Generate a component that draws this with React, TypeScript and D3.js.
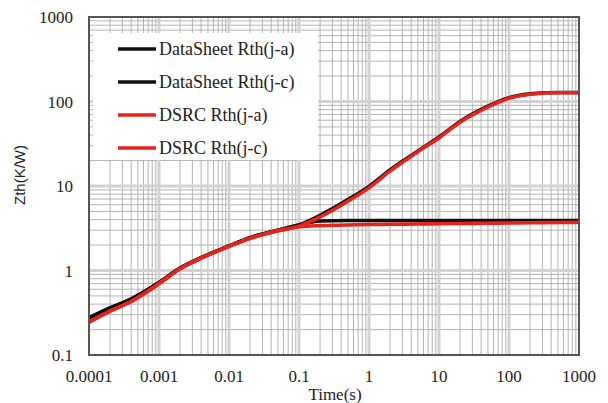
import React from 'react';
import * as d3 from 'd3';

// time axis samples (s)
const TIME = [0.0001, 0.0002, 0.0004, 0.001, 0.002, 0.004, 0.01, 0.02, 0.05, 0.1, 0.2, 0.5, 1, 2, 5, 10, 20, 50, 100, 200, 500, 1000];

// Zth values (K/W)
const DS_JA = [0.275, 0.36, 0.46, 0.72, 1.07, 1.42, 1.95, 2.45, 3.0, 3.45, 4.5, 6.9, 9.9, 15.5, 26, 38, 58, 88, 111, 123, 128, 128];
const DS_JC = [0.275, 0.36, 0.46, 0.72, 1.07, 1.42, 1.95, 2.45, 3.0, 3.45, 3.85, 3.9, 3.9, 3.9, 3.9, 3.9, 3.9, 3.9, 3.9, 3.9, 3.9, 3.9];
const DSRC_JA = [0.245, 0.33, 0.43, 0.7, 1.05, 1.4, 1.93, 2.4, 2.95, 3.35, 4.3, 6.6, 9.5, 15, 25.5, 37, 57, 86, 109, 122, 127, 127];
const DSRC_JC = [0.245, 0.33, 0.43, 0.7, 1.05, 1.4, 1.93, 2.4, 2.95, 3.3, 3.4, 3.45, 3.5, 3.52, 3.55, 3.58, 3.6, 3.63, 3.65, 3.68, 3.7, 3.72];

const X_TICKS = [0.0001, 0.001, 0.01, 0.1, 1, 10, 100, 1000];
const X_LABELS = ['0.0001', '0.001', '0.01', '0.1', '1', '10', '100', '1000'];
const Y_TICKS = [0.1, 1, 10, 100, 1000];
const Y_LABELS = ['0.1', '1', '10', '100', '1000'];

const SERIES = [
  { name: 'DataSheet Rth(j-a)', values: DS_JA, color: '#111111' },
  { name: 'DataSheet Rth(j-c)', values: DS_JC, color: '#111111' },
  { name: 'DSRC Rth(j-a)', values: DSRC_JA, color: '#e8231c' },
  { name: 'DSRC Rth(j-c)', values: DSRC_JC, color: '#e8231c' },
];

const W = 608, H = 403;
const m = { t: 17, r: 29, b: 48, l: 89 };
const SERIF = "'Liberation Serif', 'Times New Roman', serif";

export default function App() {
  const x = d3.scaleLog().domain([0.0001, 1000]).range([m.l, W - m.r]);
  const y = d3.scaleLog().domain([0.1, 1000]).range([H - m.b, m.t]);

  const isMajor = (v: number) => Math.abs(Math.log10(v) - Math.round(Math.log10(v))) < 1e-9;
  const xMinor = x.ticks().filter(v => !isMajor(v));
  const yMinor = y.ticks().filter(v => !isMajor(v));

  const line = d3.line<number>()
    .x((_, i) => x(TIME[i]))
    .y(d => y(d))
    .curve(d3.curveMonotoneX);

  return (
    <svg width={W} height={H} style={{ position: 'absolute', left: 0, top: 0, background: '#fff' }}>
      {/* minor grid */}
      <g stroke="#adadad" strokeWidth={0.9}>
        {xMinor.map(v => <line key={'xm' + v} x1={x(v)} x2={x(v)} y1={m.t} y2={H - m.b} />)}
        {yMinor.map(v => <line key={'ym' + v} x1={m.l} x2={W - m.r} y1={y(v)} y2={y(v)} />)}
      </g>
      {/* major grid */}
      <g stroke="#d2d2d2" strokeWidth={3}>
        {X_TICKS.slice(1, -1).map(v => <line key={'xM' + v} x1={x(v)} x2={x(v)} y1={m.t} y2={H - m.b} />)}
        {Y_TICKS.slice(1, -1).map(v => <line key={'yM' + v} x1={m.l} x2={W - m.r} y1={y(v)} y2={y(v)} />)}
      </g>

      {/* legend background */}
      <rect x={93} y={33} width={225} height={127} fill="#fff" />

      {/* curves: black first, red on top */}
      {SERIES.map(s => (
        <path key={s.name} d={line(s.values) || ''} fill="none" stroke={s.color} strokeWidth={3.6} strokeLinejoin="round" />
      ))}

      {/* frame */}
      <rect x={m.l} y={m.t} width={W - m.l - m.r} height={H - m.t - m.b} fill="none" stroke="#555" strokeWidth={2} />

      {/* tick labels */}
      {X_TICKS.map((v, i) => (
        <text key={'xl' + v} x={x(v)} y={382} textAnchor="middle" fontFamily={SERIF} fontSize={17} fill="#222">{X_LABELS[i]}</text>
      ))}
      {Y_TICKS.map((v, i) => (
        <text key={'yl' + v} x={73} y={y(v) + 6} textAnchor="end" fontFamily={SERIF} fontSize={17} fill="#222">{Y_LABELS[i]}</text>
      ))}

      {/* axis titles */}
      <text x={335} y={400} textAnchor="middle" fontFamily={SERIF} fontSize={17} fill="#222">Time(s)</text>
      <text transform="translate(25,175) rotate(-90)" textAnchor="middle" fontFamily="'Liberation Sans', Arial, sans-serif" fontSize={15} fill="#222">Zth(K/W)</text>

      {/* legend */}
      {SERIES.map((s, i) => {
        const ly = 49 + i * 33;
        return (
          <g key={'lg' + i}>
            <line x1={118} x2={156} y1={ly} y2={ly} stroke={s.color} strokeWidth={3.6} />
            <text x={159} y={ly + 6} fontFamily={SERIF} fontSize={18} fill="#222">{s.name}</text>
          </g>
        );
      })}
    </svg>
  );
}
